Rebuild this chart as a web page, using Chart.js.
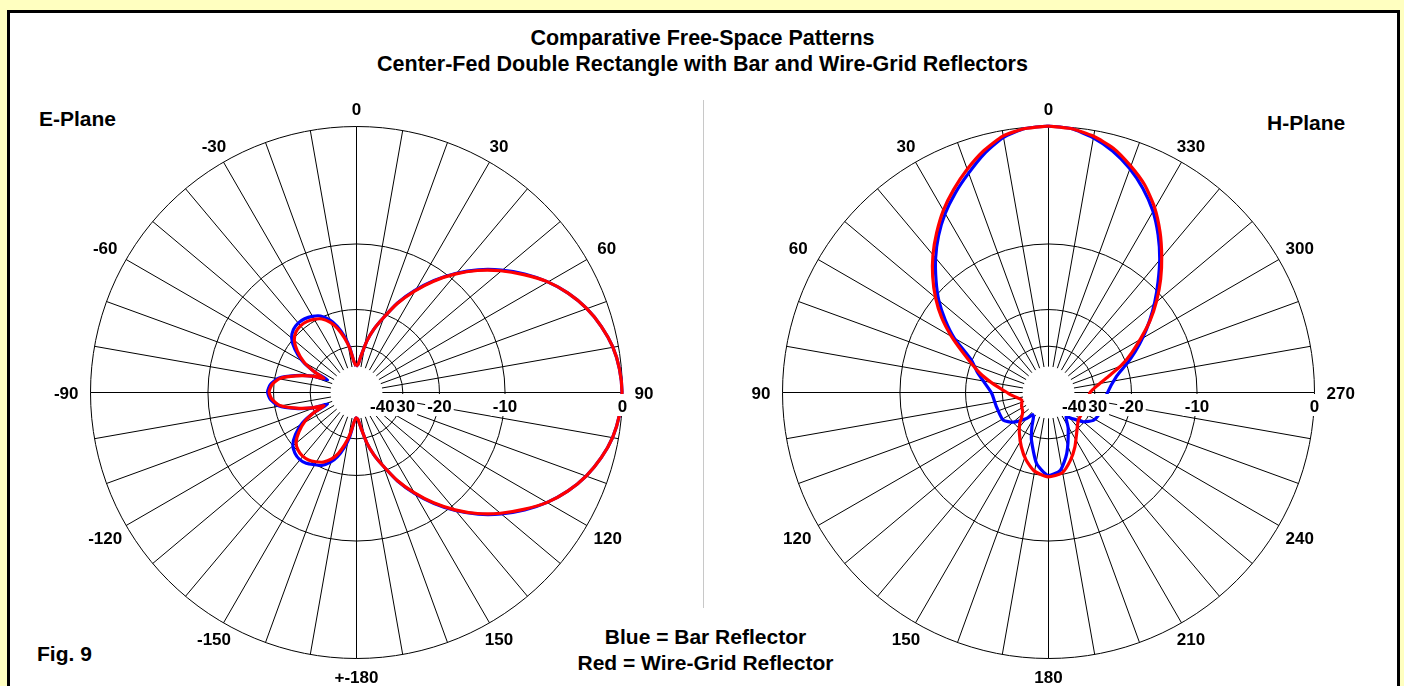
<!DOCTYPE html>
<html>
<head>
<meta charset="utf-8">
<title>Comparative Free-Space Patterns</title>
<script src="https://cdn.jsdelivr.net/npm/chart.js@4.4.1/dist/chart.umd.min.js"></script>
<style>
  html, body { margin: 0; padding: 0; }
  body {
    width: 1404px; height: 686px; overflow: hidden; position: relative;
    background: #ffffc0; color: #000;
    font-family: "Liberation Sans", Arial, sans-serif; font-weight: bold;
  }
  #frame {
    position: absolute; left: 7px; top: 10px; width: 1387px; height: 700px;
    background: #fff; border: 3px solid #000; border-bottom: none;
  }
  .txt { position: absolute; white-space: nowrap; line-height: 1; }
  .title { left: 0; width: 1405px; text-align: center; font-size: 21.5px; }
  .legend { left: 0; width: 1411px; text-align: center; font-size: 21px; }
  #sep { position: absolute; left: 703px; top: 100px; width: 1px; height: 508px; background: #c8c8c8; }
  canvas { position: absolute; top: 72px; }
  #ePlane { left: 36px; }
  #hPlane { left: 728px; }
</style>
</head>
<body>
<div id="frame"></div>
<div class="txt title" style="top:27.5px">Comparative Free-Space Patterns</div>
<div class="txt title" style="top:53.5px">Center-Fed Double Rectangle with Bar and Wire-Grid Reflectors</div>
<div class="txt" style="left:39px; top:108px; font-size:21px">E-Plane</div>
<div class="txt" style="left:1267px; top:112px; font-size:21px">H-Plane</div>
<div class="txt" style="left:37px; top:643px; font-size:21px">Fig. 9</div>
<div class="txt legend" style="top:625.5px">Blue = Bar Reflector</div>
<div class="txt legend" style="top:652px">Red = Wire-Grid Reflector</div>
<div id="sep"></div>
<canvas id="ePlane" width="640" height="640"></canvas>
<canvas id="hPlane" width="640" height="640"></canvas>
<script>
// ---- Data (dB relative to max) ----

// E-plane: angle in degrees, clockwise from the top (0 = top, 90 = right, 270 = -90)
const ePlaneAngles = [0, 4, 8, 12, 16, 20, 25, 30, 35, 40, 45, 50, 55, 60, 65, 70, 75, 80, 85, 90,
  95, 100, 105, 110, 115, 120, 125, 130, 135, 140, 145, 150, 155, 160, 164, 168, 172, 176, 180,
  184, 188, 192, 196, 200, 205, 210, 215, 220, 225, 230, 235, 240, 244, 247, 250, 255, 260, 265, 270,
  275, 280, 285, 290, 293, 296, 300, 305, 310, 315, 320, 325, 330, 335, 340, 344, 348, 352, 356];
const ePlaneRed = [-40, -39, -34, -28, -24, -21, -17.2, -14.2, -11.6, -9.4, -7.5, -5.9, -4.5, -3.2, -2.2, -1.4, -0.8, -0.35, -0.1, 0,
  -0.1, -0.35, -0.8, -1.4, -2.2, -3.2, -4.5, -5.9, -7.5, -9.4, -11.6, -14.2, -17.2, -21, -24, -28, -34, -39, -40,
  -37, -31.5, -27.5, -24.5, -22.6, -21.2, -20.5, -20, -19.9, -20.2, -21, -23, -25.8, -30, -35, -30, -25, -21.2, -19.7, -19.2,
  -19.7, -21.2, -25, -30, -35, -30, -25.5, -22.5, -20.5, -19.6, -19.3, -19.4, -19.8, -20.5, -22, -24, -27, -31, -37];
const ePlaneBlue = [-40, -39, -34, -28, -24, -21, -17.1, -14.1, -11.5, -9.3, -7.4, -5.8, -4.4, -3.2, -2.2, -1.4, -0.8, -0.35, -0.1, 0,
  -0.1, -0.35, -0.8, -1.4, -2.2, -3.2, -4.4, -5.8, -7.4, -9.3, -11.5, -14.1, -17.1, -21, -24, -28, -34, -39, -40,
  -37, -30.5, -26.5, -23.6, -21.8, -20.4, -19.8, -19.2, -19, -19.3, -20.1, -22, -25, -30, -37, -30, -24.7, -20.9, -19.4, -18.9,
  -19.4, -20.9, -24.7, -30, -37, -30, -25, -21.8, -19.8, -18.9, -18.6, -18.7, -19.1, -19.8, -21.3, -23.3, -26.3, -30.5, -37];

// H-plane: angle in degrees, counter-clockwise from the top (0 = top, 90 = left, 270 = right)
const hPlaneRedAngles = [0, 5, 10, 15, 20, 25, 30, 35, 40, 45, 50, 55, 60, 65, 70, 75, 80, 85, 90, 95, 100, 107,
  118, 128, 134, 138, 145, 154, 162, 170, 180, 190, 198, 206, 215, 227, 240, 255, 270, 278, 285, 290,
  295, 300, 305, 310, 315, 320, 325, 330, 335, 340, 345, 350, 355];
const hPlaneRed = [0, -0.1, -0.4, -1.1, -2, -3, -4.1, -5.4, -6.8, -8.4, -10.2, -12.3, -14.9, -17.8, -20.5, -23, -26, -29, -31.8, -34, -36.5, -39,
  -37.5, -36.3, -34, -31.6, -28.7, -25.3, -22.6, -20.6, -19.6, -20.2, -22.4, -25.2, -28.7, -31.9, -32.5, -32.5, -31.5, -28.5, -24.5, -21,
  -18.2, -15.6, -13, -10.8, -8.8, -7, -5.3, -3.8, -2.6, -1.7, -0.9, -0.4, -0.1];
const hPlaneBlueAngles = [0, 5, 10, 15, 20, 25, 30, 35, 40, 45, 50, 55, 60, 67, 75, 82, 91, 106, 122, 131, 141, 146,
  150, 155, 161, 171, 180, 189, 197, 209, 216, 222, 230, 238, 245, 258, 268, 283, 290,
  295, 300, 305, 310, 315, 320, 325, 330, 335, 340, 345, 350, 355];
const hPlaneBlue = [0, -0.1, -0.5, -1.3, -2.3, -3.3, -4.4, -5.7, -7.2, -8.9, -10.7, -12.9, -15.4, -19.8, -22.3, -24.5, -26.6, -27.5, -27.7, -30.1, -35.3, -39,
  -38, -33.4, -28.4, -22.3, -19.9, -20.8, -24.4, -31.8, -37, -34.5, -30, -27.5, -26.9, -26.3, -25.9, -22.8, -19.7,
  -17.4, -15.2, -13.1, -11.1, -9.2, -7.3, -5.6, -4.1, -2.9, -1.9, -1.1, -0.5, -0.1];

// Grid and labels
const ringDb = [0, -10, -20, -30];
const tickDb = [0, -10, -20, -30, -40];
const tickLabels = ['0', '-10', '-20', '-30', '-40'];
const labelAngles = [0, 30, 60, 90, 120, 150, 180, 210, 240, 270, 300, 330];
const eLabels = ['0', '30', '60', '90', '120', '150', '+-180', '-150', '-120', '-90', '-60', '-30'];
const hLabels = ['0', '30', '60', '90', '120', '150', '180', '210', '240', '270', '300', '330'];

// ---- Geometry ----
const FLOOR_DB = -40;
const R_PX = 266;            // pixel radius of the 0 dB ring
const LIM = 320 / R_PX;      // canvas half-size in scale units
const FONT = '"Liberation Sans", Arial, sans-serif';

// ARRL log scale: radius shrinks by 0.89 every 2 dB
const arrl = db => Math.pow(0.89, -Math.max(db, FLOOR_DB) / 2);

// dir = 1 for clockwise angles, -1 for counter-clockwise
const toXY = (angles, dbs, dir) => {
  const pts = angles.map((a, i) => {
    const r = arrl(dbs[i]), t = a * Math.PI / 180;
    return { x: dir * r * Math.sin(t), y: r * Math.cos(t) };
  });
  pts.push(pts[0]);
  return pts;
};

const polarGrid = {
  id: 'polarGrid',
  beforeDatasetsDraw(chart) {
    const { ctx, scales: { x, y } } = chart;
    const cx = x.getPixelForValue(0) + 0.5, cy = y.getPixelForValue(0) + 0.5;
    const k = x.getPixelForValue(1) - x.getPixelForValue(0);
    ctx.save();
    ctx.strokeStyle = '#000';
    ctx.lineWidth = 1;
    ringDb.forEach(db => {
      ctx.beginPath();
      ctx.arc(cx, cy, arrl(db) * k, 0, 2 * Math.PI);
      ctx.stroke();
    });
    const r0 = arrl(FLOOR_DB) * k;
    for (let a = 0; a < 360; a += 10) {
      const t = a * Math.PI / 180, s = Math.sin(t), c = Math.cos(t);
      ctx.beginPath();
      ctx.moveTo(cx + r0 * s, cy - r0 * c);
      ctx.lineTo(cx + k * s, cy - k * c);
      ctx.stroke();
    }
    ctx.restore();
  },
  afterDatasetsDraw(chart, args, opts) {
    const { ctx, scales: { x, y } } = chart;
    const cx = x.getPixelForValue(0) + 0.5, cy = y.getPixelForValue(0) + 0.5;
    const k = x.getPixelForValue(1) - x.getPixelForValue(0);
    ctx.save();
    ctx.fillStyle = '#000';
    ctx.textAlign = 'center';
    ctx.textBaseline = 'alphabetic';

    // dB labels on white boxes along the right-hand axis
    ctx.font = 'bold 17px ' + FONT;
    tickDb.forEach((db, i) => {
      const px = cx + arrl(db) * k;
      const w = ctx.measureText(tickLabels[i]).width;
      ctx.fillStyle = '#fff';
      ctx.fillRect(px - w / 2 - 2, cy + 1.5, w + 4, 22);
      ctx.fillStyle = '#000';
      ctx.fillText(tickLabels[i], px, cy + 19);
    });

    // angle labels outside the 0 dB ring
    ctx.font = 'bold 17px ' + FONT;
    const capH = 17 * 0.716;
    labelAngles.forEach((a, i) => {
      const t = a * Math.PI / 180;
      const s = opts.dir * Math.sin(t), c = Math.cos(t);
      const hw = ctx.measureText(opts.labels[i]).width / 2, hh = capH / 2;
      const ext = Math.min(Math.abs(s) > 1e-6 ? hw / Math.abs(s) : Infinity,
                           Math.abs(c) > 1e-6 ? hh / Math.abs(c) : Infinity);
      const d = k + 12 + ext;
      ctx.fillText(opts.labels[i], cx + d * s, cy - d * c + hh);
    });
    ctx.restore();
  }
};

const makePlot = (id, dir, labels, red, blue) => new Chart(document.getElementById(id), {
  type: 'scatter',
  data: {
    datasets: [
      { label: 'Wire-Grid Reflector', data: red, borderColor: '#ff0000', borderWidth: 3.2 },
      { label: 'Bar Reflector', data: blue, borderColor: '#0000ff', borderWidth: 3.2 }
    ]
  },
  options: {
    responsive: false,
    animation: false,
    showLine: true,
    layout: { padding: 0 },
    elements: { point: { radius: 0, hoverRadius: 0 }, line: { tension: 0.2, fill: false } },
    scales: {
      x: { type: 'linear', min: -LIM, max: LIM, display: false },
      y: { type: 'linear', min: -LIM, max: LIM, display: false }
    },
    plugins: {
      legend: { display: false },
      tooltip: { enabled: false },
      polarGrid: { dir, labels }
    }
  },
  plugins: [polarGrid]
});

makePlot('ePlane', 1, eLabels,
  toXY(ePlaneAngles, ePlaneRed, 1), toXY(ePlaneAngles, ePlaneBlue, 1));
makePlot('hPlane', -1, hLabels,
  toXY(hPlaneRedAngles, hPlaneRed, -1), toXY(hPlaneBlueAngles, hPlaneBlue, -1));
</script>
</body>
</html>
